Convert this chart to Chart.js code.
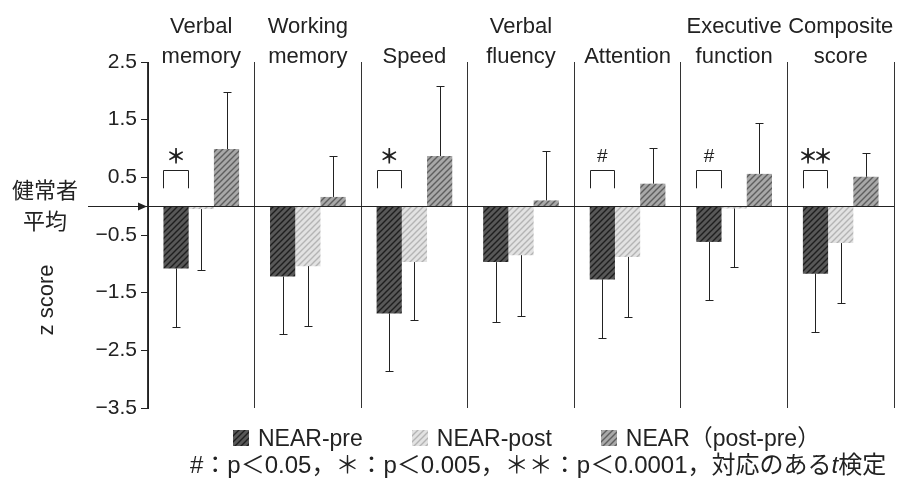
<!DOCTYPE html>
<html>
<head>
<meta charset="utf-8">
<script src="https://cdn.jsdelivr.net/npm/chart.js@4"></script>
<style>
  html, body { margin: 0; padding: 0; background: #fff; }
  #wrap { position: relative; width: 899px; height: 482px; }
  #legend { position: absolute; left: 233px; top: 424px; display: flex; font: 23px "Liberation Sans", Arial, "Noto Sans CJK JP", sans-serif; line-height: 28px; color: #222; white-space: nowrap; }
  #legend .item { display: flex; align-items: center; margin-right: 49px; }
  #legend .sw { width: 16px; height: 16px; margin-right: 9px; }
  #note { position: absolute; left: 190px; top: 451px; font: 24px "Liberation Sans", Arial, "Noto Sans CJK JP", sans-serif; line-height: 28px; color: #222; white-space: nowrap; }
</style>
</head>
<body>
<div id="wrap">
  <canvas id="chart" width="899" height="482"></canvas>
  <div id="legend"></div>
  <div id="note">#：p＜0.05，＊：p＜0.005，＊＊：p＜0.0001，対応のある<i>t</i>検定</div>
</div>
<script>
// categories (two-line labels above the plot)
const categories = [["Verbal", "memory"], ["Working", "memory"], ["Speed"], ["Verbal", "fluency"], ["Attention"], ["Executive", "function"], ["Composite", "score"]];
const seriesNames = ["NEAR-pre", "NEAR-post", "NEAR（post-pre）"];

// mean z scores
const pre  = [-1.08, -1.22, -1.86, -0.97, -1.27, -0.62, -1.17];
const post = [-0.05, -1.04, -0.97, -0.85, -0.88, -0.04, -0.64];
const diff = [0.99, 0.16, 0.87, 0.10, 0.39, 0.56, 0.51];

// SD (one-sided error bars)
const preSd  = [1.02, 1.00, 1.00, 1.03, 1.01, 1.01, 1.02];
const postSd = [1.05, 1.04, 1.01, 1.05, 1.04, 1.02, 1.04];
const diffSd = [0.99, 0.71, 1.21, 0.86, 0.62, 0.88, 0.41];

// significance marks pre vs post
const sigMarks = ["＊", "", "＊", "", "#", "#", "＊＊"];

const yTicks = [2.5, 1.5, 0.5, -0.5, -1.5, -2.5, -3.5];

const FONT = '"Liberation Sans", Arial, "Noto Sans CJK JP", sans-serif';
const canvas = document.getElementById('chart');
const mainCtx = canvas.getContext('2d');

function makeTile(base, ink) {
  const c = document.createElement('canvas');
  c.width = c.height = 6;
  const g = c.getContext('2d');
  g.fillStyle = base;
  g.fillRect(0, 0, 6, 6);
  g.strokeStyle = ink;
  g.lineWidth = 1.4;
  g.beginPath();
  g.moveTo(0, 6); g.lineTo(6, 0);
  g.moveTo(-3, 3); g.lineTo(3, -3);
  g.moveTo(3, 9); g.lineTo(9, 3);
  g.stroke();
  return c;
}
const tiles = [makeTile('#585858', '#1e1e1e'), makeTile('#e2e2e2', '#b4b4b4'), makeTile('#a8a8a8', '#5e5e5e')];

const overlay = {
  id: 'overlay',
  afterDatasetsDraw(chart) {
    const { ctx, chartArea, scales: { x, y } } = chart;
    ctx.save();
    ctx.strokeStyle = '#222';
    ctx.fillStyle = '#222';
    ctx.lineWidth = 1;

    // category labels above each group
    ctx.font = '22px ' + FONT;
    ctx.textAlign = 'center';
    ctx.textBaseline = 'alphabetic';
    categories.forEach((lines, j) => {
      const cx = x.getPixelForValue(j);
      lines.forEach((t, k) => ctx.fillText(t, cx, 63 - (lines.length - 1 - k) * 30));
    });

    // zero line (healthy mean) with arrow
    const y0 = Math.round(y.getPixelForValue(0)) + 0.5;
    ctx.beginPath();
    ctx.moveTo(88, y0);
    ctx.lineTo(chartArea.right, y0);
    ctx.stroke();
    ctx.beginPath();
    ctx.moveTo(chartArea.left - 1, y0);
    ctx.lineTo(chartArea.left - 10, y0 - 4);
    ctx.lineTo(chartArea.left - 10, y0 + 4);
    ctx.closePath();
    ctx.fill();

    // error bars
    [preSd, postSd, diffSd].forEach((sd, i) => {
      const meta = chart.getDatasetMeta(i);
      const vals = chart.data.datasets[i].data;
      meta.data.forEach((bar, j) => {
        const v = vals[j];
        const end = v < 0 ? v - sd[j] : v + sd[j];
        const bx = Math.round(bar.x) + 0.5;
        const y1 = y.getPixelForValue(v);
        const y2 = Math.round(y.getPixelForValue(end)) + 0.5;
        ctx.beginPath();
        ctx.moveTo(bx, y1); ctx.lineTo(bx, y2);
        ctx.moveTo(bx - 4, y2); ctx.lineTo(bx + 4, y2);
        ctx.stroke();
      });
    });

    // brackets over pre bar
    const pm = chart.getDatasetMeta(0);
    ctx.textBaseline = 'middle';
    sigMarks.forEach((m, j) => {
      if (!m) return;
      const b = pm.data[j];
      const l = Math.round(b.x - b.width / 2) + 0.5, r = Math.round(b.x + b.width / 2) - 0.5;
      const yt = Math.round(y.getPixelForValue(0.62)) + 0.5, yb = y.getPixelForValue(0.31);
      ctx.beginPath();
      ctx.moveTo(l, yb); ctx.lineTo(l, yt); ctx.lineTo(r, yt); ctx.lineTo(r, yb);
      ctx.stroke();
      if (m === '#') {
        ctx.font = '19px ' + FONT;
        ctx.fillText(m, b.x, y.getPixelForValue(0.86));
      } else {
        ctx.font = 'bold 20px "Noto Sans CJK JP"';
        const n = m.length, step = 15;
        for (let k = 0; k < n; k++) {
          ctx.fillText(m[k], b.x + (k - (n - 1) / 2) * step, y.getPixelForValue(0.86));
        }
      }
    });

    // left labels
    ctx.font = '22px "Noto Sans CJK JP"';
    ctx.fillText('健常者', 45, 190);
    ctx.fillText('平均', 45, 221);
    ctx.translate(47, 300);
    ctx.rotate(-Math.PI / 2);
    ctx.font = '22px ' + FONT;
    ctx.fillText('z score', 0, 0);
    ctx.restore();
  }
};

const chart = new Chart(canvas, {
  type: 'bar',
  data: {
    labels: categories.map(c => c.join(' ')),
    datasets: [
      { label: seriesNames[0], data: pre, backgroundColor: mainCtx.createPattern(tiles[0], 'repeat') },
      { label: seriesNames[1], data: post, backgroundColor: mainCtx.createPattern(tiles[1], 'repeat') },
      { label: seriesNames[2], data: diff, backgroundColor: mainCtx.createPattern(tiles[2], 'repeat') }
    ]
  },
  options: {
    responsive: false,
    animation: false,
    layout: { padding: { left: 0, right: 5, top: 0, bottom: 74 } },
    datasets: { bar: { categoryPercentage: 0.71, barPercentage: 1 } },
    plugins: {
      legend: { display: false },
      tooltip: { enabled: false }
    },
    scales: {
      x: {
        position: 'top',
        offset: true,
        grid: { offset: true, color: '#333', drawTicks: false, lineWidth: 1 },
        border: { display: false },
        ticks: { display: false },
        afterFit(s) { s.height = 62; }
      },
      y: {
        min: -3.5,
        max: 2.5,
        afterBuildTicks(s) { s.ticks = yTicks.map(v => ({ value: v })); },
        afterFit(s) { s.width = 148; },
        grid: { drawOnChartArea: false, tickLength: 7, color: '#222' },
        border: { color: '#222' },
        ticks: {
          font: { size: 21, family: FONT },
          color: '#222',
          padding: 4,
          callback: v => v.toFixed(1).replace('-', '−')
        }
      }
    }
  },
  plugins: [overlay]
});

// legend built from the datasets
const legendEl = document.getElementById('legend');
chart.data.datasets.forEach((ds, i) => {
  const item = document.createElement('span');
  item.className = 'item';
  const sw = document.createElement('span');
  sw.className = 'sw';
  sw.style.backgroundImage = 'url(' + tiles[i].toDataURL() + ')';
  item.appendChild(sw);
  item.appendChild(document.createTextNode(ds.label));
  legendEl.appendChild(item);
});
</script>
</body>
</html>
